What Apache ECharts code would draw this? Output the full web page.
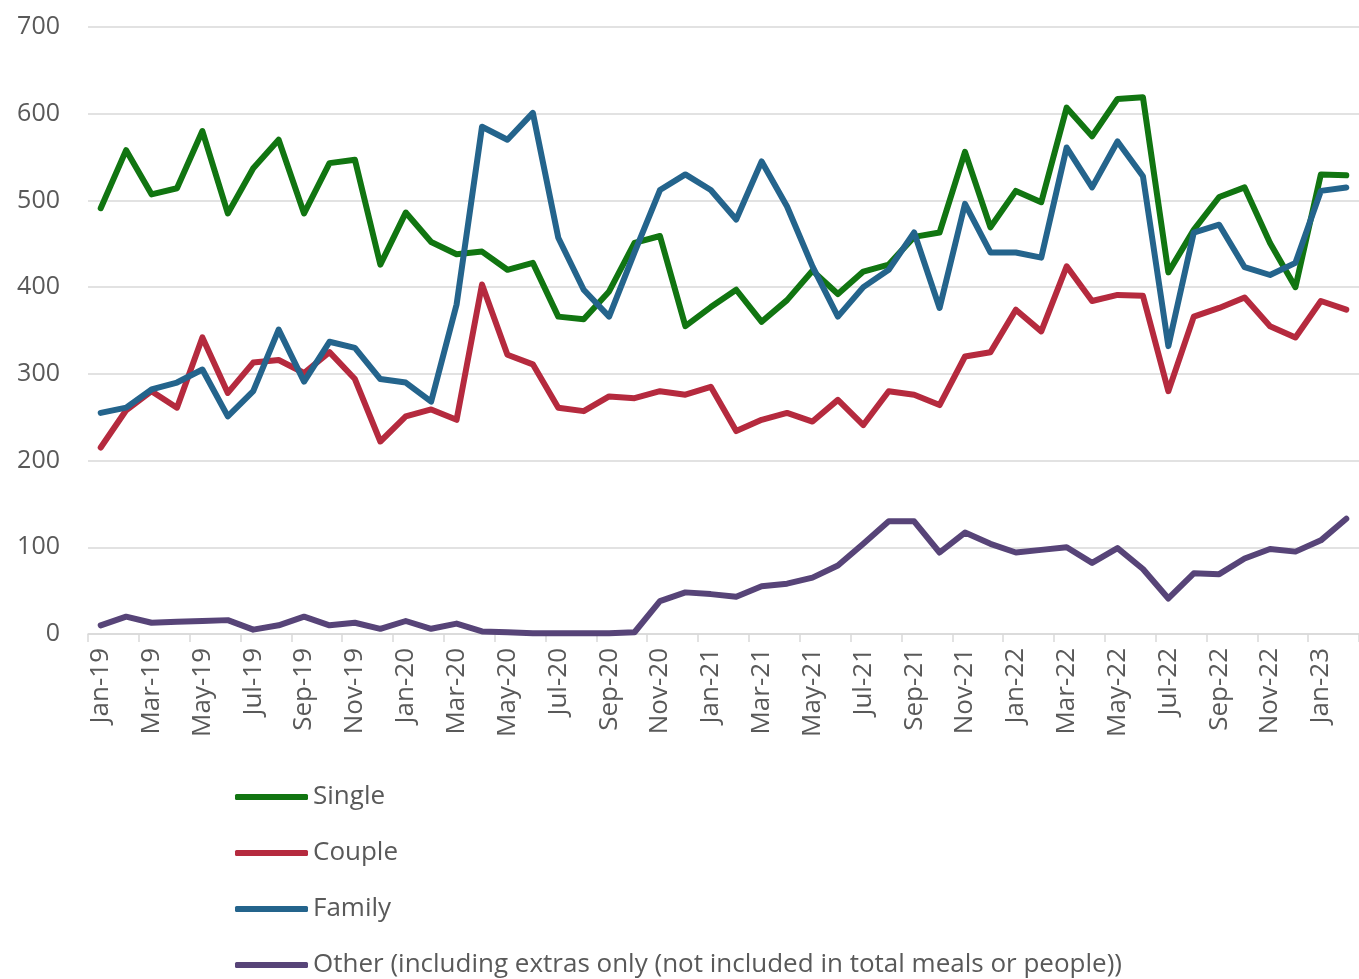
<!DOCTYPE html>
<html>
<head>
<meta charset="utf-8">
<script src="https://cdn.jsdelivr.net/npm/echarts@6/dist/echarts.min.js"></script>
<style>
html,body{margin:0;padding:0;background:#fff;}
#chart{width:1359px;height:979px;}
</style>
</head>
<body>
<div id="chart"></div>
<script>
const months = ['Jan-19','Feb-19','Mar-19','Apr-19','May-19','Jun-19','Jul-19','Aug-19','Sep-19','Oct-19','Nov-19','Dec-19',
  'Jan-20','Feb-20','Mar-20','Apr-20','May-20','Jun-20','Jul-20','Aug-20','Sep-20','Oct-20','Nov-20','Dec-20',
  'Jan-21','Feb-21','Mar-21','Apr-21','May-21','Jun-21','Jul-21','Aug-21','Sep-21','Oct-21','Nov-21','Dec-21',
  'Jan-22','Feb-22','Mar-22','Apr-22','May-22','Jun-22','Jul-22','Aug-22','Sep-22','Oct-22','Nov-22','Dec-22',
  'Jan-23','Feb-23'];

const single = [491,558,507,514,580,485,537,570,485,543,547,426,
  486,452,438,441,420,428,366,363,395,451,459,355,
  377,397,360,385,419,392,418,426,458,463,556,469,
  511,498,607,574,617,619,417,466,504,515,451,400,
  530,529];

const couple = [215,258,280,261,342,278,313,316,301,325,294,222,
  251,259,247,403,322,311,261,257,274,272,280,276,
  285,234,247,255,245,270,241,280,276,264,320,325,
  374,349,424,384,391,390,280,366,376,388,355,342,
  384,374];

const family = [255,261,282,290,305,251,280,351,291,337,330,294,
  290,268,380,585,570,601,457,397,366,440,512,530,
  512,478,545,493,424,366,400,420,463,376,496,440,
  440,434,561,515,568,528,332,463,472,423,414,428,
  511,515];

const other = [10,20,13,14,15,16,5,10,20,10,13,6,
  15,6,12,3,2,1,1,1,1,2,38,48,
  46,43,55,58,65,79,104,130,130,94,117,104,
  94,97,100,82,99,75,41,70,69,87,98,95,
  108,133];

const seriesNames = ['Single','Couple','Family','Other (including extras only (not included in total meals or people))'];
const seriesColors = ['#117511','#B52A3E','#24648C','#574478'];
const seriesData = [single, couple, family, other];

const chart = echarts.init(document.getElementById('chart'));
const font = '"Open Sans", Lato, sans-serif';

chart.setOption({
  animation: false,
  backgroundColor: '#ffffff',
  grid: {left: 88, top: 27, width: 1280, bottom: 345, containLabel: false},
  legend: {
    orient: 'vertical',
    left: 235,
    top: 783,
    padding: 0,
    itemWidth: 73,
    itemHeight: 6,
    itemGap: 28,
    icon: 'roundRect',
    data: seriesNames,
    textStyle: {fontFamily: font, fontSize: 26, color: '#595959', lineHeight: 28}
  },
  xAxis: {
    type: 'category',
    data: months,
    boundaryGap: true,
    axisLine: {show: true, lineStyle: {color: '#d9d9d9', width: 1.5}},
    axisTick: {show: true, interval: 1, length: 8, lineStyle: {color: '#d9d9d9', width: 1.5}},
    axisLabel: {interval: 1, rotate: 90, fontFamily: font, fontSize: 26, color: '#595959', margin: 14},
    splitLine: {show: false}
  },
  yAxis: {
    type: 'value',
    min: 0, max: 700, interval: 100,
    axisLine: {show: false},
    axisTick: {show: false},
    axisLabel: {fontFamily: font, fontSize: 25, color: '#595959', margin: 28},
    splitLine: {show: true, lineStyle: {color: '#d9d9d9', width: 1.5}}
  },
  series: seriesNames.map((name, k) => ({
    name: name,
    type: 'line',
    data: seriesData[k],
    symbol: 'none',
    color: seriesColors[k],
    lineStyle: {width: 6, color: seriesColors[k], join: 'round', cap: 'round'}
  }))
});
</script>
</body>
</html>
